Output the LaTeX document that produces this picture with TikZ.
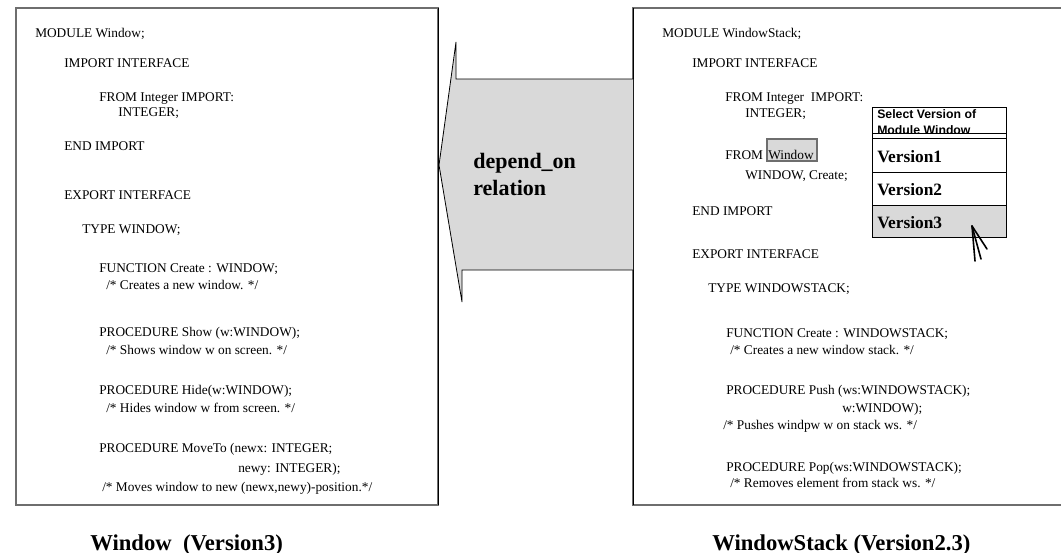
\documentclass[tikz,border=0pt]{standalone}
\usepackage{fontspec}
\setmainfont{Liberation Serif}
\newfontfamily\hdrfont{Liberation Sans}
\definecolor{menugray}{HTML}{D9D9D9}
\definecolor{framegray}{HTML}{6E6E6E}
\begin{document}
\begin{tikzpicture}[x=0.75pt,y=-0.75pt,
  code/.style={anchor=base west, inner sep=0pt, font=\fontsize{10}{12}\selectfont},
  ver/.style={anchor=base west, inner sep=0pt, font=\fontsize{13}{15}\selectfont\bfseries},
  hdr/.style={anchor=base west, inner sep=0pt, font=\hdrfont\fontsize{9.2}{11}\selectfont\bfseries},
  caption/.style={anchor=base west, inner sep=0pt, font=\fontsize{17}{20}\selectfont\bfseries},
  rel/.style={anchor=base west, inner sep=0pt, font=\fontsize{16.5}{20}\selectfont\bfseries},
  frame/.style={draw=framegray, line width=1.5pt},
  edge/.style={draw=black, line width=0.6pt}]
\useasboundingbox (0,0) rectangle (1061,553);

% module frames
\draw[frame] (16,7.5) rectangle (438,505);
\draw[frame] (1070,7.5) -- (633,7.5) -- (633,505) -- (1070,505);
\draw[edge] (438,7.5) -- (438,505);
\draw[edge] (633,7.5) -- (633,505);

% dependency arrow
\draw[edge, fill=menugray] (633,79) -- (456,79) -- (456,42) -- (439,165)
  -- (462,302) -- (462,270) -- (633,270);
\node[rel] (rel1) at (473,168) {depend\_on};
\node[rel] (rel2) at (473,195) {relation};

% module Window
\node[code] (l1) at (35,37) {MODULE Window;};
\node[code] (l2) at (64,67) {IMPORT INTERFACE};
\node[code] (l3) at (99,101) {FROM Integer IMPORT:};
\node[code] (l4) at (118,116) {INTEGER;};
\node[code] (l5) at (64,150) {END IMPORT};
\node[code] (l6) at (64,199) {EXPORT INTERFACE};
\node[code] (l7) at (82,233) {TYPE WINDOW;};
\node[code] (l8) at (99,272) {FUNCTION Create : WINDOW;};
\node[code] (l9) at (106,289) {/* Creates a new window. */};
\node[code] (l10) at (99,336) {PROCEDURE Show (w:WINDOW);};
\node[code] (l11) at (106,354) {/* Shows window w on screen. */};
\node[code] (l12) at (99,394) {PROCEDURE Hide(w:WINDOW);};
\node[code] (l13) at (106,412) {/* Hides window w from screen. */};
\node[code] (l14) at (99,452) {PROCEDURE MoveTo (newx: INTEGER;};
\node[code] (l15) at (238,472) {newy: INTEGER);};
\node[code] (l16) at (102,491) {/* Moves window to new (newx,newy)-position.*/};
\node[caption] (capl) at (90,550) {Window\ \ (Version3)};

% module WindowStack
\node[code] (r1) at (662,37) {MODULE WindowStack;};
\node[code] (r2) at (692,67) {IMPORT INTERFACE};
\node[code] (r3) at (725,101) {FROM Integer\ \ IMPORT:};
\node[code] (r4) at (745,117) {INTEGER;};
\node[code] (r5) at (725,159) {FROM};
\draw[draw=framegray, line width=0.9pt, fill=menugray] (767,139) rectangle (817,161);
\node[code] (rwin) at (768,159) {Window};
\node[code] (r6) at (745,179) {WINDOW, Create;};
\node[code] (r7) at (692,215) {END IMPORT};
\node[code] (r8) at (692,258) {EXPORT INTERFACE};
\node[code] (r9) at (708,292) {TYPE WINDOWSTACK;};
\node[code] (r10) at (726,337) {FUNCTION Create : WINDOWSTACK;};
\node[code] (r11) at (730,354) {/* Creates a new window stack. */};
\node[code] (r12) at (726,394) {PROCEDURE Push (ws:WINDOWSTACK);};
\node[code] (r13) at (842,412) {w:WINDOW);};
\node[code] (r14) at (723,429) {/* Pushes windpw w on stack ws. */};
\node[code] (r15) at (726,471) {PROCEDURE Pop(ws:WINDOWSTACK);};
\node[code] (r16) at (730,487) {/* Removes element from stack ws. */};
\node[caption] (capr) at (712,550) {WindowStack (Version2.3)};

% version selection menu
\fill[menugray] (872,205) rectangle (1006,237);
\node[hdr] (h1) at (877,118) {Select Version of};
\node[hdr] (h2) at (877,134) {Module Window};
\fill[white] (872,133) rectangle (1006,138);
\draw[edge] (872,107) rectangle (1006,237);
\draw[edge] (872,133) -- (1006,133);
\draw[edge] (872,138) -- (1006,138);
\draw[edge] (872,172) -- (1006,172);
\draw[edge] (872,205) -- (1006,205);
\node[ver] (v1) at (877,162) {Version1};
\node[ver] (v2) at (877,195) {Version2};
\node[ver] (v3) at (877,228) {Version3};

% mouse pointer
\coordinate (tip) at (972,226);
\draw[line width=1.2pt, line cap=round] (tip) -- (975,261);
\draw[line width=1.2pt, line cap=round] (tip) -- (981,259);
\draw[line width=1.2pt, line cap=round] (tip) -- (987,249);
\end{tikzpicture}
\end{document}
